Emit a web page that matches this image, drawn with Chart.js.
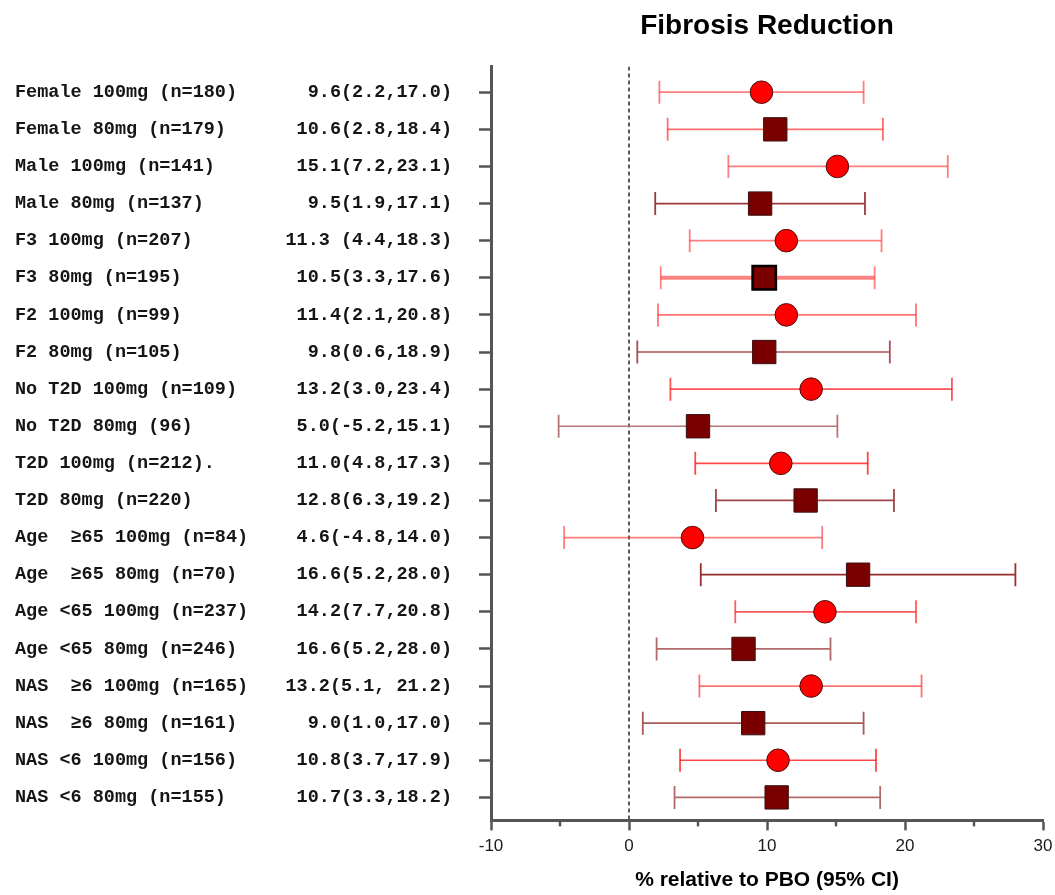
<!DOCTYPE html>
<html>
<head>
<meta charset="utf-8">
<script src="https://cdn.jsdelivr.net/npm/chart.js@4/dist/chart.umd.min.js"></script>
<style>
  html, body { margin: 0; padding: 0; background: #fff; }
  #wrap { width: 1055px; height: 895px; position: relative; }
</style>
</head>
<body>
<div id="wrap"><canvas id="c"></canvas></div>
<script>
// ---- data ----
const subgroups = [
  "Female 100mg (n=180)", "Female 80mg (n=179)", "Male 100mg (n=141)", "Male 80mg (n=137)",
  "F3 100mg (n=207)", "F3 80mg (n=195)", "F2 100mg (n=99)", "F2 80mg (n=105)",
  "No T2D 100mg (n=109)", "No T2D 80mg (96)", "T2D 100mg (n=212).", "T2D 80mg (n=220)",
  "Age  \u226565 100mg (n=84)", "Age  \u226565 80mg (n=70)", "Age <65 100mg (n=237)", "Age <65 80mg (n=246)",
  "NAS  \u22656 100mg (n=165)", "NAS  \u22656 80mg (n=161)", "NAS <6 100mg (n=156)", "NAS <6 80mg (n=155)"
];
const valueTexts = [
  "9.6(2.2,17.0)", "10.6(2.8,18.4)", "15.1(7.2,23.1)", "9.5(1.9,17.1)",
  "11.3 (4.4,18.3)", "10.5(3.3,17.6)", "11.4(2.1,20.8)", "9.8(0.6,18.9)",
  "13.2(3.0,23.4)", "5.0(-5.2,15.1)", "11.0(4.8,17.3)", "12.8(6.3,19.2)",
  "4.6(-4.8,14.0)", "16.6(5.2,28.0)", "14.2(7.7,20.8)", "16.6(5.2,28.0)",
  "13.2(5.1, 21.2)", "9.0(1.0,17.0)", "10.8(3.7,17.9)", "10.7(3.3,18.2)"
];
const doses    = [100, 80, 100, 80, 100, 80, 100, 80, 100, 80, 100, 80, 100, 80, 100, 80, 100, 80, 100, 80];
const estimate = [9.6, 10.6, 15.1, 9.5, 11.4, 9.8, 11.4, 9.8, 13.2, 5.0, 11.0, 12.8, 4.6, 16.6, 14.2, 8.3, 13.2, 9.0, 10.8, 10.7];
const ciLow    = [2.2, 2.8, 7.2, 1.9, 4.4, 2.3, 2.1, 0.6, 3.0, -5.1, 4.8, 6.3, -4.7, 5.2, 7.7, 2.0, 5.1, 1.0, 3.7, 3.3];
const ciHigh   = [17.0, 18.4, 23.1, 17.1, 18.3, 17.8, 20.8, 18.9, 23.4, 15.1, 17.3, 19.2, 14.0, 28.0, 20.8, 14.6, 21.2, 17.0, 17.9, 18.2];
const xTicks   = [-10, 0, 10, 20, 30];

// ---- styles (kept apart from data) ----
const barColors = [
  "rgba(255,40,40,0.6)", "rgba(255,30,30,0.65)", "rgba(255,40,40,0.6)", "#9c3a3a",
  "rgba(255,40,40,0.6)", "rgba(255,30,30,0.55)", "rgba(255,40,40,0.65)", "#a65050",
  "rgba(255,20,20,0.72)", "#b47575", "rgba(255,20,20,0.78)", "#9e4646",
  "rgba(255,40,40,0.6)", "#9a2e2e", "rgba(255,30,30,0.72)", "#b06868",
  "rgba(255,40,40,0.65)", "#a85a5a", "rgba(255,20,20,0.78)", "#b46a6a"
];
const barWidths = doses.map((d, i) => i === 5 ? 4 : 1.7);
const squareBorderWidths = doses.map((d, i) => i === 5 ? 2.5 : 1);

const Y_MIN = -0.69, Y_MAX = 19.62;
const rowIdx = subgroups.map((_, i) => i);

const errorBarSets = rowIdx.map(i => ({
  data: [{ x: ciLow[i], y: i }, { x: ciHigh[i], y: i }],
  showLine: true,
  borderColor: barColors[i],
  borderWidth: barWidths[i],
  pointStyle: 'line',
  rotation: 90,
  pointRadius: 11.5,
  pointBorderColor: barColors[i],
  pointBorderWidth: 1.8,
  pointBackgroundColor: barColors[i],
  order: 2
}));

const idx100 = rowIdx.filter(i => doses[i] === 100);
const idx80 = rowIdx.filter(i => doses[i] === 80);

const circleSet = {
  data: idx100.map(i => ({ x: estimate[i], y: i })),
  pointStyle: 'circle',
  pointRadius: 11.3,
  pointBackgroundColor: '#ff0000',
  pointBorderColor: '#4a1010',
  pointBorderWidth: 1,
  order: 0
};
const squareSet = {
  data: idx80.map(i => ({ x: estimate[i], y: i })),
  pointStyle: 'rect',
  pointRadius: 16.5,
  pointBackgroundColor: '#7a0000',
  pointBorderColor: idx80.map(i => squareBorderWidths[i] > 1 ? '#000000' : '#3a1010'),
  pointBorderWidth: idx80.map(i => squareBorderWidths[i]),
  order: 0
};
const zeroLine = {
  data: [{ x: 0, y: Y_MIN }, { x: 0, y: Y_MAX }],
  showLine: true,
  borderColor: '#4a4a4a',
  borderWidth: 1.8,
  borderDash: [4, 3],
  pointRadius: 0,
  order: 3
};

const minorTicks = {
  id: 'minorTicks',
  afterDraw(chart) {
    const xs = chart.scales.x;
    const ctx = chart.ctx;
    ctx.save();
    ctx.strokeStyle = '#555555';
    ctx.lineWidth = 2.5;
    for (let v = -5; v < 30; v += 10) {
      const px = xs.getPixelForValue(v);
      ctx.beginPath();
      ctx.moveTo(px, xs.top);
      ctx.lineTo(px, xs.top + 6);
      ctx.stroke();
    }
    ctx.restore();
  }
};

const monoFont = { family: '"Courier New", "Liberation Mono", monospace', size: 18.5, weight: 'bold' };
const sansFont = '"Liberation Sans", Arial, sans-serif';

const rowTicks = (scale) => { scale.ticks = rowIdx.map(v => ({ value: v })); };

new Chart(document.getElementById('c'), {
  type: 'scatter',
  data: { datasets: [zeroLine, ...errorBarSets, circleSet, squareSet] },
  options: {
    responsive: true,
    maintainAspectRatio: false,
    animation: false,
    events: [],
    layout: { autoPadding: false, padding: { left: 15, right: 12, top: 0, bottom: 0 } },
    plugins: {
      legend: { display: false },
      tooltip: { enabled: false },
      title: {
        display: true,
        text: 'Fibrosis Reduction',
        fullSize: false,
        color: '#000',
        font: { family: sansFont, size: 28, weight: 'bold' },
        padding: { top: 9, bottom: 24 }
      }
    },
    scales: {
      x: {
        type: 'linear',
        min: -10, max: 30,
        afterBuildTicks: (scale) => { scale.ticks = [-10, -5, 0, 5, 10, 15, 20, 25, 30].map(v => ({ value: v })); },
        afterFit: (scale) => { scale.paddingRight = 10; },
        ticks: {
          callback: (v) => xTicks.includes(v) ? String(v) : '',
          color: '#1a1a1a',
          font: { family: sansFont, size: 17 },
          padding: 6,
          maxRotation: 0,
          autoSkip: false
        },
        grid: {
          drawOnChartArea: false,
          drawTicks: true,
          tickLength: 10,
          tickWidth: 2.5,
          tickColor: (ctx) => (ctx.tick && xTicks.includes(ctx.tick.value)) ? '#555555' : 'rgba(0,0,0,0)'
        },
        border: { color: '#555555', width: 3 },
        title: {
          display: true,
          text: '% relative to PBO (95% CI)',
          color: '#000',
          font: { family: sansFont, size: 21, weight: 'bold' },
          padding: { top: 5, bottom: 2 }
        }
      },
      y: {
        type: 'linear',
        position: 'left',
        weight: 0,
        reverse: true,
        min: Y_MIN, max: Y_MAX,
        afterBuildTicks: rowTicks,
        afterFit: (scale) => { scale.width = 205; },
        ticks: {
          callback: (v) => valueTexts[v],
          color: '#151515',
          font: monoFont,
          padding: 27,
          autoSkip: false
        },
        grid: {
          drawOnChartArea: false,
          drawTicks: true,
          tickLength: 12,
          tickWidth: 2.5,
          tickColor: '#555555'
        },
        border: { color: '#555555', width: 3 }
      },
      yn: {
        type: 'linear',
        position: 'left',
        weight: 1,
        reverse: true,
        min: Y_MIN, max: Y_MAX,
        afterBuildTicks: rowTicks,
        afterFit: (scale) => { scale.width = 271; },
        ticks: {
          callback: (v) => subgroups[v],
          color: '#151515',
          font: monoFont,
          crossAlign: 'far',
          padding: 0,
          autoSkip: false
        },
        grid: { display: false, drawTicks: false },
        border: { display: false }
      }
    }
  },
  plugins: [minorTicks]
});
</script>
</body>
</html>
